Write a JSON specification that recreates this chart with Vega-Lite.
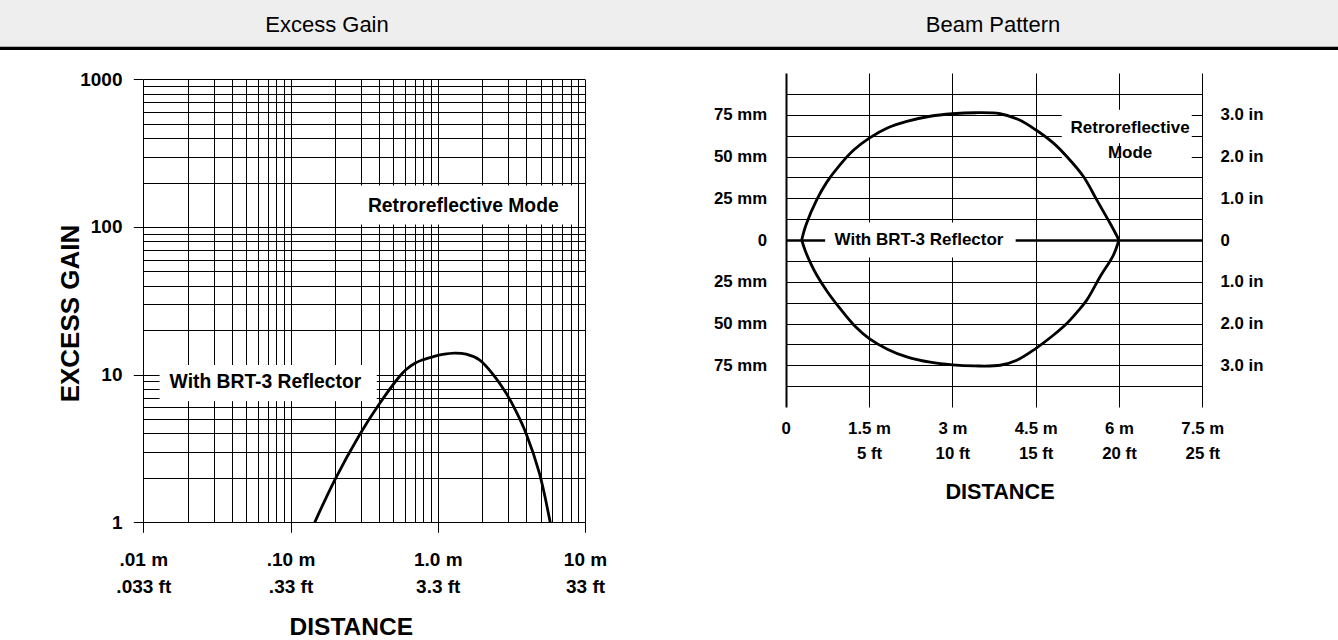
{
  "$schema": "https://vega.github.io/schema/vega-lite/v6.json",
  "width": 1338,
  "height": 640,
  "autosize": {"type": "none"},
  "padding": 0,
  "background": "white",
  "config": {
    "view": {"stroke": null},
    "axis": {
      "domain": false,
      "ticks": false,
      "grid": false,
      "labelOverlap": false,
      "labelFlush": false,
      "labelColor": "#000000",
      "titleColor": "#000000",
      "gridColor": "#000000",
      "gridOpacity": 1,
      "tickColor": "#000000",
      "labelFont": "Liberation Sans, Arial, sans-serif",
      "titleFont": "Liberation Sans, Arial, sans-serif",
      "labelFontWeight": "bold",
      "titleFontWeight": "bold"
    }
  },
  "datasets": {
    "band": [{"part": "header"}],
    "headers": [{"panel": "Excess Gain"}, {"panel": "Beam Pattern"}],
    "excess": [
      {"distance": 0.146, "gain": 1},
      {"distance": 0.2, "gain": 1.94},
      {"distance": 0.294, "gain": 3.9},
      {"distance": 0.39, "gain": 6.08},
      {"distance": 0.5495, "gain": 9.71},
      {"distance": 0.61, "gain": 10.83},
      {"distance": 0.695, "gain": 11.89},
      {"distance": 0.791, "gain": 12.6},
      {"distance": 0.925, "gain": 13.2},
      {"distance": 1.081, "gain": 13.7},
      {"distance": 1.298, "gain": 14.0},
      {"distance": 1.559, "gain": 13.77},
      {"distance": 1.918, "gain": 12.6},
      {"distance": 2.4, "gain": 9.9},
      {"distance": 2.91, "gain": 7.5},
      {"distance": 3.41, "gain": 5.62},
      {"distance": 3.98, "gain": 4.0},
      {"distance": 4.9, "gain": 2.15},
      {"distance": 5.8, "gain": 1}
    ],
    "egBoxes": [
      {"x0": 0.206, "x1": 8.85, "y0": 104, "y1": 191},
      {"x0": 0.0129, "x1": 0.385, "y0": 6.6, "y1": 11.6}
    ],
    "egLabels": [
      {"label": "Retroreflective Mode", "x": 1.49, "y": 139},
      {"label": "With BRT-3 Reflector", "x": 0.0675, "y": 8.87}
    ],
    "beam": [
      {"side": "upper", "distance": 0.288, "offset": 0},
      {"side": "upper", "distance": 0.365, "offset": 9},
      {"side": "upper", "distance": 0.558, "offset": 24},
      {"side": "upper", "distance": 0.743, "offset": 34.8},
      {"side": "upper", "distance": 0.977, "offset": 45},
      {"side": "upper", "distance": 1.23, "offset": 54},
      {"side": "upper", "distance": 1.505, "offset": 61},
      {"side": "upper", "distance": 1.84, "offset": 67.2},
      {"side": "upper", "distance": 2.18, "offset": 71},
      {"side": "upper", "distance": 2.6, "offset": 74.1},
      {"side": "upper", "distance": 3.0, "offset": 75.6},
      {"side": "upper", "distance": 3.41, "offset": 76.2},
      {"side": "upper", "distance": 3.86, "offset": 75.6},
      {"side": "upper", "distance": 4.2, "offset": 72},
      {"side": "upper", "distance": 4.5, "offset": 66},
      {"side": "upper", "distance": 4.82, "offset": 58},
      {"side": "upper", "distance": 5.06, "offset": 50},
      {"side": "upper", "distance": 5.36, "offset": 38},
      {"side": "upper", "distance": 5.6, "offset": 24},
      {"side": "upper", "distance": 5.84, "offset": 10},
      {"side": "upper", "distance": 6.0, "offset": 0},
      {"side": "lower", "distance": 0.288, "offset": 0},
      {"side": "lower", "distance": 0.347, "offset": -6},
      {"side": "lower", "distance": 0.45, "offset": -14},
      {"side": "lower", "distance": 0.558, "offset": -21},
      {"side": "lower", "distance": 0.75, "offset": -31},
      {"side": "lower", "distance": 0.977, "offset": -41},
      {"side": "lower", "distance": 1.23, "offset": -51},
      {"side": "lower", "distance": 1.505, "offset": -59},
      {"side": "lower", "distance": 1.84, "offset": -65.5},
      {"side": "lower", "distance": 2.18, "offset": -70},
      {"side": "lower", "distance": 2.6, "offset": -73.2},
      {"side": "lower", "distance": 3.0, "offset": -74.8},
      {"side": "lower", "distance": 3.4, "offset": -75.4},
      {"side": "lower", "distance": 3.86, "offset": -75},
      {"side": "lower", "distance": 4.16, "offset": -72},
      {"side": "lower", "distance": 4.5, "offset": -65},
      {"side": "lower", "distance": 4.8, "offset": -57.5},
      {"side": "lower", "distance": 5.06, "offset": -50},
      {"side": "lower", "distance": 5.25, "offset": -43},
      {"side": "lower", "distance": 5.42, "offset": -36},
      {"side": "lower", "distance": 5.66, "offset": -22},
      {"side": "lower", "distance": 5.9, "offset": -9},
      {"side": "lower", "distance": 6.0, "offset": 0}
    ],
    "bpBoxes": [
      {"x0": 0.71, "x1": 4.14, "y0": -10.5, "y1": 10.5},
      {"x0": 4.97, "x1": 7.31, "y0": 58, "y1": 78},
      {"x0": 4.97, "x1": 5.97, "y0": 46, "y1": 58},
      {"x0": 6.03, "x1": 7.31, "y0": 46, "y1": 58}
    ],
    "bpLabels": [
      {"label": "With BRT-3 Reflector", "x": 2.4, "y": 0},
      {"label": "Retroreflective\nMode", "x": 6.2, "y": 67}
    ]
  },
  "layer": [
    {
      "data": {"name": "band"},
      "layer": [
        {
          "mark": {"type": "rect", "color": "#eeeeee"},
          "encoding": {
            "y": {"datum": 0, "type": "quantitative", "scale": {"domain": [0, 1], "range": [48.3, 0], "nice": false, "zero": false}, "axis": null},
            "y2": {"datum": 1}
          }
        },
        {
          "mark": {"type": "rule", "color": "#000000", "strokeWidth": 3.3},
          "encoding": {
            "y": {"datum": 0, "type": "quantitative", "axis": null}
          }
        }
      ]
    },
    {
      "data": {"name": "headers"},
      "mark": {"type": "text", "font": "Liberation Sans, Arial, sans-serif", "fontSize": 22, "baseline": "middle", "align": "center", "color": "#000000"},
      "encoding": {
        "x": {"field": "panel", "type": "nominal", "scale": {"type": "point", "domain": ["Excess Gain", "Beam Pattern"], "range": [327, 993], "padding": 0}, "axis": null},
        "y": {"datum": 0.48, "type": "quantitative", "scale": {"domain": [0, 1], "range": [48.3, 0], "nice": false, "zero": false}, "axis": null},
        "text": {"field": "panel"}
      }
    },
    {
      "layer": [
        {
          "data": {"name": "egBoxes"},
          "mark": {"type": "rect", "fill": "white", "strokeWidth": 0},
          "encoding": {
            "x": {
              "field": "x0", "type": "quantitative",
              "scale": {"type": "log", "domain": [0.01, 10], "range": [143.3, 585], "nice": false},
              "axis": {
                "orient": "top", "title": null, "labels": false, "grid": true, "gridWidth": 1,
                "values": [0.01, 0.02, 0.03, 0.04, 0.05, 0.06, 0.07, 0.08, 0.09, 0.1, 0.2, 0.3, 0.4, 0.5, 0.6, 0.7, 0.8, 0.9, 1, 2, 3, 4, 5, 6, 7, 8, 9, 10]
              }
            },
            "x2": {"field": "x1"},
            "y": {
              "field": "y0", "type": "quantitative",
              "scale": {"type": "log", "domain": [1, 1000], "range": [522.3, 79.3], "nice": false},
              "axis": {
                "orient": "left", "offset": -143.3, "grid": true, "gridWidth": 1,
                "values": [1, 2, 3, 4, 5, 6, 7, 8, 9, 10, 20, 30, 40, 50, 60, 70, 80, 90, 100, 200, 300, 400, 500, 600, 700, 800, 900, 1000],
                "ticks": true, "tickSize": 10, "tickWidth": 1,
                "tickOpacity": {"condition": {"test": "datum.value == 1 || datum.value == 10 || datum.value == 100 || datum.value == 1000", "value": 1}, "value": 0},
                "labelExpr": "datum.value == 1000 ? '1000' : datum.value == 100 ? '100' : datum.value == 10 ? '10' : datum.value == 1 ? '1' : ''",
                "labelFontSize": 19, "labelPadding": 11.3,
                "title": "EXCESS GAIN", "titleFontSize": 26,
                "titleX": -65.3, "titleY": 313, "titleAlign": "center", "titleBaseline": "alphabetic"
              }
            },
            "y2": {"field": "y1"}
          }
        },
        {
          "data": {"name": "egLabels"},
          "mark": {"type": "text", "font": "Liberation Sans, Arial, sans-serif", "fontSize": 19.3, "fontWeight": "bold", "align": "center", "baseline": "middle", "color": "#000000"},
          "encoding": {
            "x": {
              "field": "x", "type": "quantitative",
              "axis": {
                "orient": "bottom", "offset": -117.7, "values": [0.01, 0.1, 1, 10],
                "ticks": true, "tickSize": 10, "tickWidth": 1,
                "labelExpr": "datum.value == 0.01 ? ['.01 m', '.033 ft'] : datum.value == 0.1 ? ['.10 m', '.33 ft'] : datum.value == 1 ? ['1.0 m', '3.3 ft'] : ['10 m', '33 ft']",
                "labelFontSize": 19, "labelLineHeight": 27.5, "labelBaseline": "alphabetic", "labelPadding": 32.7,
                "title": "DISTANCE", "titleFontSize": 24.5, "titleX": 350.8, "titleY": 112,
                "titleAlign": "center", "titleBaseline": "alphabetic"
              }
            },
            "y": {
              "field": "y", "type": "quantitative",
              "axis": {"orient": "right", "labels": false, "grid": false, "ticks": false, "domain": false, "title": null}
            },
            "text": {"field": "label"}
          }
        },
        {
          "data": {"name": "excess"},
          "mark": {"type": "line", "color": "#000000", "strokeWidth": 2.8, "interpolate": "catmull-rom"},
          "encoding": {
            "x": {"field": "distance", "type": "quantitative", "axis": null},
            "y": {"field": "gain", "type": "quantitative", "axis": null}
          }
        }
      ]
    },
    {
      "layer": [
        {
          "data": {"name": "bpBoxes"},
          "mark": {"type": "rect", "fill": "white", "strokeWidth": 0},
          "encoding": {
            "x": {
              "field": "x0", "type": "quantitative",
              "scale": {"domain": [0, 7.5], "range": [785.7, 1202.3], "nice": false, "zero": false},
              "axis": {
                "orient": "top", "title": null, "labels": false, "grid": true,
                "gridWidth": {"condition": {"test": "datum.value == 0", "value": 2}, "value": 1},
                "values": [0, 1.5, 3, 4.5, 6, 7.5]
              }
            },
            "x2": {"field": "x1"},
            "y": {
              "field": "y0", "type": "quantitative",
              "scale": {"domain": [-100, 100], "range": [407, 73], "nice": false, "zero": false},
              "axis": {
                "orient": "left", "offset": -785.7, "grid": true,
                "gridWidth": {"condition": {"test": "datum.value == 0", "value": 2.5}, "value": 1},
                "values": [-87.5, -75, -62.5, -50, -37.5, -25, -12.5, 0, 12.5, 25, 37.5, 50, 62.5, 75, 87.5],
                "labelExpr": "abs(datum.value) == 75 ? '75 mm' : abs(datum.value) == 50 ? '50 mm' : abs(datum.value) == 25 ? '25 mm' : datum.value == 0 ? '0' : ''",
                "labelFontSize": 16.8, "labelPadding": 19, "title": null
              }
            },
            "y2": {"field": "y1"}
          }
        },
        {
          "data": {"name": "bpLabels"},
          "mark": {"type": "text", "font": "Liberation Sans, Arial, sans-serif", "fontSize": 17, "fontWeight": "bold", "align": "center", "baseline": "middle", "lineBreak": "\n", "lineHeight": 24.4, "color": "#000000"},
          "encoding": {
            "x": {
              "field": "x", "type": "quantitative",
              "axis": {
                "orient": "bottom", "offset": -233, "values": [0, 1.5, 3, 4.5, 6, 7.5],
                "labelExpr": "datum.value == 0 ? '0' : datum.value == 1.5 ? ['1.5 m', '5 ft'] : datum.value == 3 ? ['3 m', '10 ft'] : datum.value == 4.5 ? ['4.5 m', '15 ft'] : datum.value == 6 ? ['6 m', '20 ft'] : ['7.5 m', '25 ft']",
                "labelFontSize": 16.8, "labelLineHeight": 25, "labelBaseline": "alphabetic", "labelPadding": 26.3,
                "title": "DISTANCE", "titleFontSize": 21.7, "titleX": 999.5, "titleY": 91.3,
                "titleAlign": "center", "titleBaseline": "alphabetic"
              }
            },
            "y": {
              "field": "y", "type": "quantitative",
              "axis": {
                "orient": "right", "offset": -135.7, "values": [-75, -50, -25, 0, 25, 50, 75],
                "labelExpr": "abs(datum.value) == 75 ? '3.0 in' : abs(datum.value) == 50 ? '2.0 in' : abs(datum.value) == 25 ? '1.0 in' : '0'",
                "labelFontSize": 16.8, "labelPadding": 17.7, "title": null
              }
            },
            "text": {"field": "label"}
          }
        },
        {
          "data": {"name": "beam"},
          "mark": {"type": "line", "color": "#000000", "strokeWidth": 2.8, "interpolate": "catmull-rom"},
          "encoding": {
            "x": {"field": "distance", "type": "quantitative", "axis": null},
            "y": {"field": "offset", "type": "quantitative", "axis": null},
            "detail": {"field": "side", "type": "nominal"}
          }
        }
      ]
    }
  ],
  "resolve": {
    "scale": {"x": "independent", "y": "independent"},
    "axis": {"x": "independent", "y": "independent"}
  }
}
